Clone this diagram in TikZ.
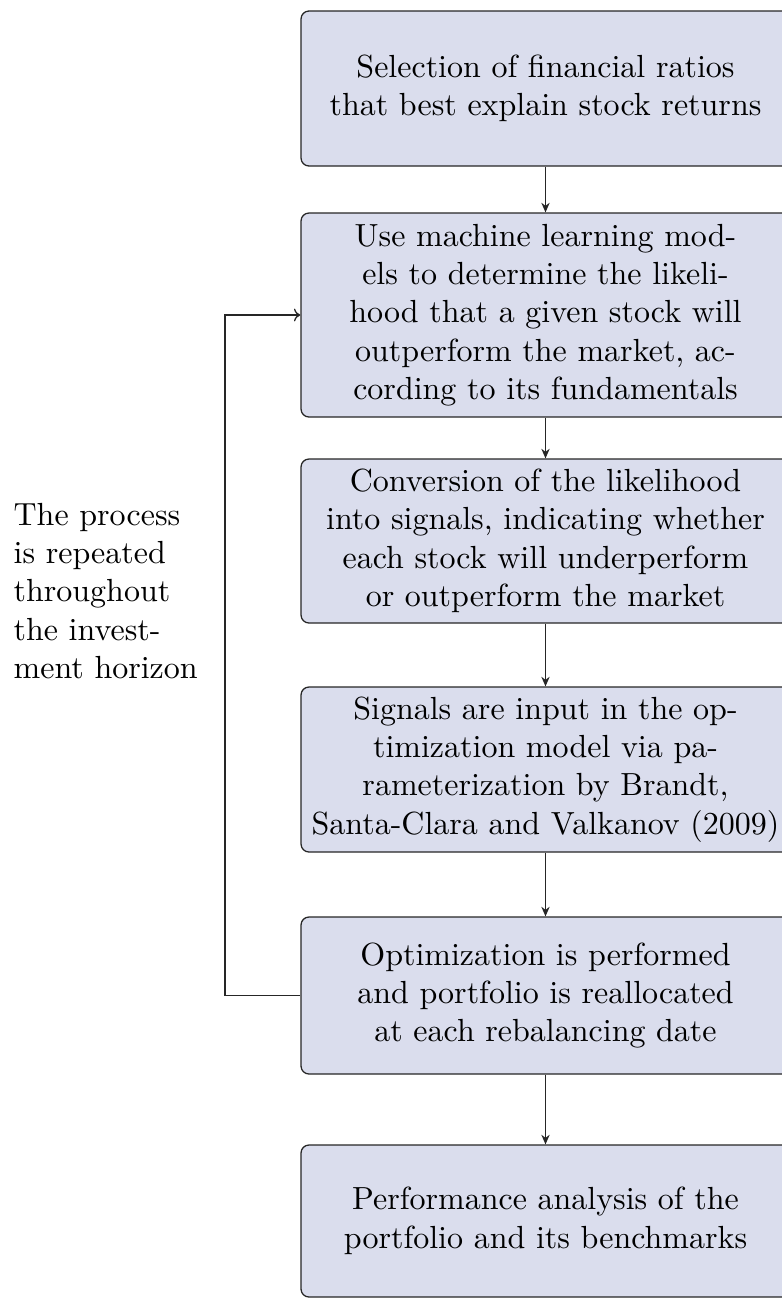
\documentclass[tikz,border=0pt]{standalone}
\usetikzlibrary{arrows.meta}
\definecolor{boxfill}{RGB}{218,221,237}
\begin{document}
\begin{tikzpicture}[x=0.3125pt,y=-0.3125pt,
  flowbox/.style={draw=black!85, fill=boxfill, line width=0.4pt, rounded corners=2.5pt,
    minimum width=489*0.3125pt, align=center, inner sep=0pt, font=\normalsize},
  flowarrow/.style={-{Stealth[length=3pt,width=2.6pt]}, line width=0.4pt, draw=black!85},
  backarrow/.style={-{To[length=2pt,width=4pt]}, line width=0.4pt, draw=black!85}]
\useasboundingbox (0,0) rectangle (782,1298);
\node[flowbox, minimum height=155*0.3125pt] (b1) at (545.5,88.5)
  {Selection of financial ratios\\that best explain stock returns};
\node[flowbox, minimum height=204*0.3125pt] (b2) at (545.5,315)
  {Use machine learning mod-\\els to determine the likeli-\\hood that a given stock will\\outperform the market, ac-\\cording to its fundamentals};
\node[flowbox, minimum height=164*0.3125pt] (b3) at (545.5,541)
  {Conversion of the likelihood\\into signals, indicating whether\\each stock will underperform\\or outperform the market};
\node[flowbox, minimum height=165*0.3125pt] (b4) at (545.5,769.5)
  {Signals are input in the op-\\timization model via pa-\\rameterization by Brandt,\\Santa-Clara and Valkanov (2009)};
\node[flowbox, minimum height=157*0.3125pt] (b5) at (545.5,995.5)
  {Optimization is performed\\and portfolio is reallocated\\at each rebalancing date};
\node[flowbox, minimum height=152*0.3125pt] (b6) at (545.5,1221)
  {Performance analysis of the\\portfolio and its benchmarks};
\node[anchor=west, align=left, inner sep=0pt] (note) at (13,591)
  {The process\\is repeated\\throughout\\the invest-\\ment horizon};
\draw[flowarrow] (b1) -- (b2);
\draw[flowarrow] (b2) -- (b3);
\draw[flowarrow] (b3) -- (b4);
\draw[flowarrow] (b4) -- (b5);
\draw[flowarrow] (b5) -- (b6);
\coordinate (c1) at (225,995.5);
\coordinate (c2) at (225,315);
\draw[backarrow] (b5.west) -- (c1) -- (c2) -- (b2.west);
\end{tikzpicture}
\end{document}
